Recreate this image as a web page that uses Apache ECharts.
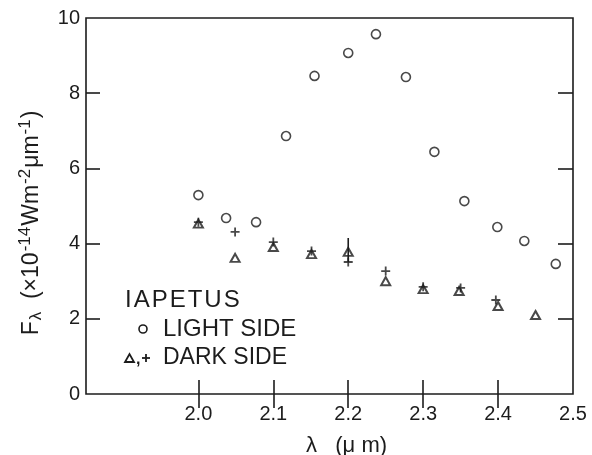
<!DOCTYPE html>
<html>
<head>
<meta charset="utf-8">
<title>Iapetus</title>
<script src="https://cdn.jsdelivr.net/npm/echarts@6/dist/echarts.min.js"></script>
<style>
  html, body { margin: 0; padding: 0; background: #fff; }
  #chart { width: 592px; height: 455px; }
</style>
</head>
<body>
<div id="chart"></div>
<script>
// wavelength (um) and flux (x10^-14 W m^-2 um^-1)
var lightX = [2.0, 2.037, 2.077, 2.117, 2.155, 2.2, 2.237, 2.277, 2.315, 2.355, 2.399, 2.435, 2.477];
var lightY = [5.29, 4.68, 4.57, 6.86, 8.46, 9.07, 9.57, 8.43, 6.44, 5.13, 4.44, 4.07, 3.46];

var darkTriX = [2.0, 2.049, 2.1, 2.151, 2.2, 2.25, 2.3, 2.348, 2.4, 2.45];
var darkTriY = [4.53, 3.62, 3.91, 3.72, 3.78, 3.0, 2.79, 2.74, 2.34, 2.10];

var darkPlusX = [2.0, 2.049, 2.1, 2.151, 2.2, 2.25, 2.3, 2.35, 2.397];
var darkPlusY = [4.57, 4.31, 4.04, 3.80, 3.51, 3.27, 2.85, 2.82, 2.50];

var errX = [2.2];
var errLow = [3.5];
var errHigh = [4.15];

var xLabels = [2.0, 2.1, 2.2, 2.3, 2.4, 2.5];
var xTicks = [2.0, 2.1, 2.2, 2.3, 2.4];
var yLabels = [0, 2, 4, 6, 8, 10];
var yTicks = [2, 4, 6, 8];

function pairs(xs, ys) {
  return xs.map(function (x, i) { return [x, ys[i]]; });
}

var ink = '#1c1c1c';
var font = 'Liberation Sans';
var plusPath = 'path://M4,0h2v4h4v2h-4v4h-2v-4h-4v-2h4z';

var errData = [];
errX.forEach(function (x, i) {
  errData.push([x, errHigh[i]]);
  errData.push([x, errLow[i]]);
});

var chart = echarts.init(document.getElementById('chart'));
chart.setOption({
  animation: false,
  backgroundColor: '#fff',
  grid: {
    left: 86, right: 19, top: 18, bottom: 61, outerBoundsMode: 'none',
    show: true, borderColor: ink, borderWidth: 1.6
  },
  xAxis: [
    {
      type: 'value', min: 1.85, max: 2.5, position: 'bottom',
      axisLine: { show: false },
      splitLine: { show: false },
      axisTick: { inside: true, length: 14, lineStyle: { color: ink, width: 1.6 }, customValues: xTicks },
      axisLabel: {
        customValues: xLabels, margin: 10, color: ink, fontFamily: font, fontSize: 20,
        formatter: function (v) { return v.toFixed(1); }
      },
      name: 'λ   (μ m)', nameLocation: 'middle', nameGap: 41,
      nameTextStyle: { color: ink, fontFamily: font, fontSize: 22, padding: [0, 0, 0, 34] }
    },
    {
      type: 'value', min: 1.85, max: 2.5, position: 'top',
      axisLine: { show: false }, splitLine: { show: false }, axisLabel: { show: false },
      axisTick: { inside: true, length: 14, lineStyle: { color: ink, width: 1.6 }, customValues: xTicks }
    }
  ],
  yAxis: [
    {
      type: 'value', min: 0, max: 10, interval: 2, position: 'left',
      axisLine: { show: false }, splitLine: { show: false },
      axisTick: { inside: true, length: 14, lineStyle: { color: ink, width: 1.6 }, customValues: yTicks },
      axisLabel: { customValues: yLabels, margin: 6, color: ink, fontFamily: font, fontSize: 20 },
      name: '{b|F}{sub|λ}{b|  (×10}{sup|-14}{b|Wm}{sup|-2}{b|μm}{sup|-1}{b|)}',
      nameLocation: 'middle', nameGap: 36, nameRotate: 90,
      nameTextStyle: {
        padding: [0, 0, 0, -34],
        rich: {
          b: { fontFamily: font, fontSize: 23, color: ink, lineHeight: 32 },
          sub: { fontFamily: font, fontSize: 17, color: ink, lineHeight: 32, padding: [9, 0, 0, 1] },
          sup: { fontFamily: font, fontSize: 17, color: ink, lineHeight: 32, padding: [0, 1, 13, 1] }
        }
      }
    },
    {
      type: 'value', min: 0, max: 10, interval: 2, position: 'right',
      axisLine: { show: false }, splitLine: { show: false }, axisLabel: { show: false },
      axisTick: { inside: true, length: 15, lineStyle: { color: ink, width: 1.6 }, customValues: yTicks }
    }
  ],
  series: [
    {
      name: 'LIGHT SIDE', type: 'scatter', data: pairs(lightX, lightY),
      symbol: 'circle', symbolSize: 9,
      itemStyle: { color: '#fff', borderColor: ink, borderWidth: 1.6 }
    },
    {
      name: 'error', type: 'line', data: errData, symbol: 'none',
      lineStyle: { color: ink, width: 1.6 }
    },
    {
      name: 'DARK SIDE +', type: 'scatter', data: pairs(darkPlusX, darkPlusY),
      symbol: plusPath, symbolSize: 9,
      itemStyle: { color: ink }
    },
    {
      name: 'DARK SIDE', type: 'scatter', data: pairs(darkTriX, darkTriY),
      symbol: 'triangle', symbolSize: [9, 8],
      itemStyle: { color: 'rgba(255,255,255,0)', borderColor: ink, borderWidth: 2 }
    }
  ],
  graphic: [
    { type: 'text', x: 125, y: 300, style: { text: ['I', 'A', 'P', 'E', 'T', 'U', 'S'].join('\u200A'), font: '24px "Liberation Sans"', fill: ink, verticalAlign: 'middle' } },
    { type: 'circle', shape: { cx: 143, cy: 329, r: 4 }, style: { fill: 'none', stroke: ink, lineWidth: 1.6 } },
    { type: 'text', x: 163, y: 329, style: { text: 'LIGHT SIDE', font: '24px "Liberation Sans"', fill: ink, verticalAlign: 'middle' } },
    { type: 'polygon', shape: { points: [[125, 362], [134, 362], [129.5, 354]] }, style: { fill: 'none', stroke: ink, lineWidth: 1.8 } },
    { type: 'text', x: 136, y: 352, style: { text: ',', font: 'bold 16px "Liberation Sans"', fill: ink } },
    { type: 'line', shape: { x1: 142, y1: 358, x2: 150, y2: 358 }, style: { stroke: ink, lineWidth: 1.8 } },
    { type: 'line', shape: { x1: 146, y1: 354, x2: 146, y2: 362 }, style: { stroke: ink, lineWidth: 1.8 } },
    { type: 'text', x: 163, y: 358, style: { text: 'DARK SIDE', font: '23px "Liberation Sans"', fill: ink, verticalAlign: 'middle' } }
  ]
});
</script>
</body>
</html>
